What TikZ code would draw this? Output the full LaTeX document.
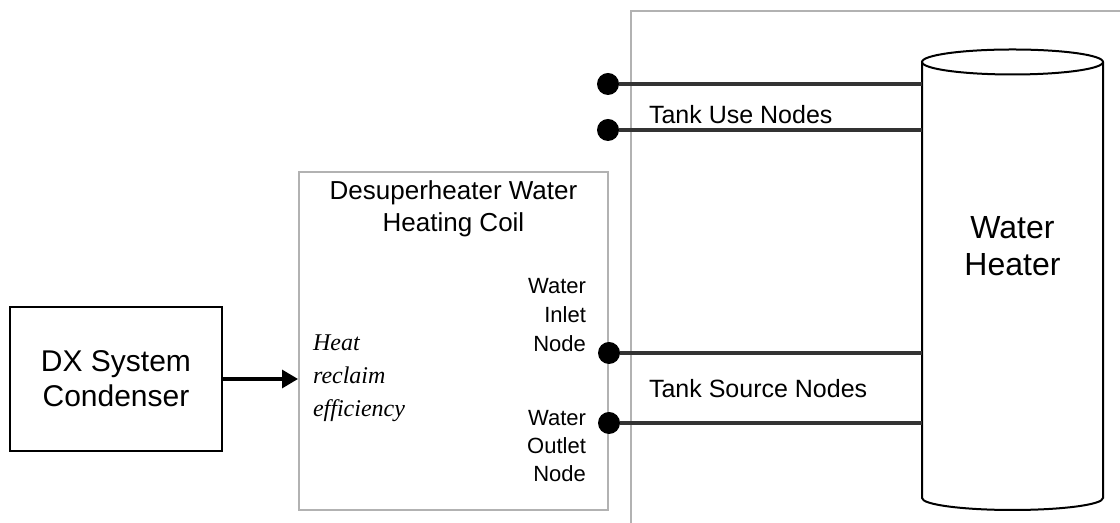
\documentclass[tikz,border=0pt]{standalone}
\usepackage{fontspec}
\setmainfont{Liberation Sans}
\newfontfamily\serifit{Liberation Serif}
\usetikzlibrary{arrows.meta,positioning}

\tikzset{
  block/.style={draw, line width=1pt, inner sep=0pt},
  port/.style={circle, fill=black, inner sep=0pt, minimum size=11pt},
  pipe/.style={line width=1.6pt, draw=black!80},
  lbl/.style={inner sep=3.33pt},
}

\begin{document}
\begin{tikzpicture}[x=0.5pt, y=0.5pt]
		\useasboundingbox (0,0) rectangle (1120,523);
		% water heater side
		\draw[gray!60, line width=1pt] (631,0) -- (631,512) -- (1120,512);
		% tank
		\draw[line width=1pt] (922,461) -- (922,25) arc[start angle=180, end angle=360, x radius=90.5, y radius=12] -- (1103,461);
		\draw[line width=1pt] (1012.5,461) ellipse[x radius=90.5, y radius=12.5];
		\coordinate (tank) at (922,270);
		\node[align=center, font=\fontsize{16}{18.5}\selectfont] (wh) at (1012.5,276.5) {Water\\Heater};
		% blocks
		\node[block, minimum width=106pt, minimum height=72pt, align=center, font=\fontsize{15}{17.5}\selectfont] (dx) at (116,144) {DX System\\Condenser};
		\node[block, draw=gray!60, minimum width=154.5pt, minimum height=169pt] (coil) at (453.5,182) {};
		\node[align=center, font=\fontsize{13}{16}\selectfont] (title) at (453.5,314) {Desuperheater Water\\Heating Coil};
		\node[lbl, anchor=west, align=left, font=\serifit\itshape\fontsize{12}{16.5}\selectfont] (eff) at (306,145) {Heat\\reclaim\\efficiency};
		\node[lbl, anchor=east, align=right, font=\fontsize{11}{14.5}\selectfont] (inlbl) at (593,208) {Water\\Inlet\\Node};
		\node[lbl, anchor=east, align=right, font=\fontsize{11}{14}\selectfont] (outlbl) at (593,76.5) {Water\\Outlet\\Node};
		\draw[-{Triangle[length=8pt,width=9pt]}, line width=1.6pt] (dx.east) -- (dx.east -| coil.west);
		% nodes
		\node[port] (use1) at (608,439){};
		\node[port] (use2) at (608,393){};
		\node[port] (src1) at (609,170){};
		\node[port] (src2) at (609,100){};
		\draw[pipe] (use1) -- (use1 -| tank);
		\draw[pipe] (use2) -- (use2 -| tank);
		\draw[pipe] (src1) -- (src1 -| tank);
		\draw[pipe] (src2) -- (src2 -| tank);
		\node[lbl, anchor=west, font=\fontsize{12.5}{15}\selectfont] (uselbl) at (642,408) {Tank Use Nodes};
		\node[lbl, anchor=west, font=\fontsize{12.5}{15}\selectfont] (srclbl) at (642,134) {Tank Source Nodes};
		\end{tikzpicture}
\end{document}
